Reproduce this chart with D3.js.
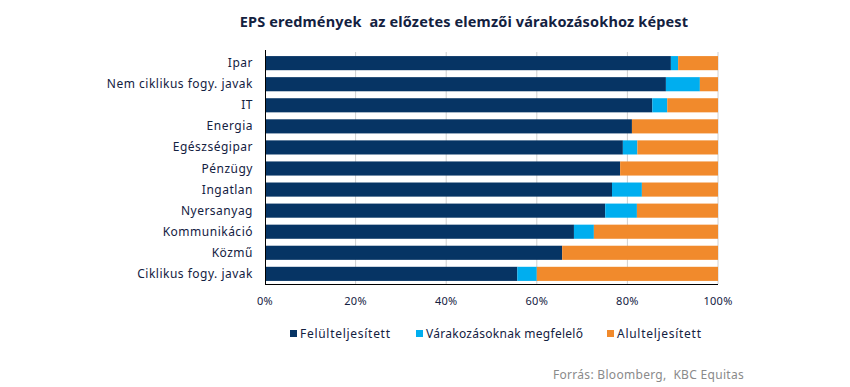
<!DOCTYPE html>
<html lang="hu">
<head>
<meta charset="UTF-8">
<title>EPS eredmények</title>
<script src="https://d3js.org/d3.v7.min.js"></script>
<style>
  body { margin: 0; background: #fff; }
  text { font-family: "Noto Sans", sans-serif; }
</style>
</head>
<body>
<script>
    const width  = 850;
    const height = 387;

    const sectors  = ['Ipar', 'Nem ciklikus fogy. javak', 'IT', 'Energia', 'Egészségipar', 'Pénzügy',
                      'Ingatlan', 'Nyersanyag', 'Kommunikáció', 'Közmű', 'Ciklikus fogy. javak'];
    const beat     = [89.6, 88.5, 85.5, 81.0, 79.0, 78.4, 76.6, 75.1, 68.2, 65.6, 55.7];
    const inline   = [1.6, 7.5, 3.3, 0, 3.2, 0, 6.6, 7.0, 4.4, 0, 4.3];
    const miss     = beat.map((b, i) => 100 - b - inline[i]);
    const seriesNames = ['Felülteljesített', 'Várakozásoknak megfelelő', 'Alulteljesített'];
    const colors   = ['#063464', '#00aeef', '#f18a2c'];
    const ticks    = [0, 20, 40, 60, 80, 100];

    const rows = sectors.map((s, i) => ({sector: s, beat: beat[i], inline: inline[i], miss: miss[i]}));
    const stack = d3.stack().keys(['beat', 'inline', 'miss'])(rows);

    const svg = d3.select("body").append("svg")
        .attr("width", width).attr("height", height);

    svg.append("text")
        .attr("x", 464).attr("y", 27)
        .attr("text-anchor", "middle")
        .style("font-size", "14.5px").style("font-weight", "bold")
        .style("letter-spacing", "0.15px")
        .style("fill", "#13213f")
        .text("EPS eredmények  az előzetes elemzői várakozásokhoz képest")
        .attr("xml:space", "preserve");

    const x = d3.scaleLinear().domain([0, 100]).range([265, 718]);
    const y = d3.scaleBand().domain(sectors).range([52.5, 284.5]).paddingInner(0.33).paddingOuter(0.17);

    // gridlines
    svg.append("g").selectAll("line").data(ticks.slice(1)).join("line")
        .attr("x1", d => x(d)).attr("x2", d => x(d))
        .attr("y1", 52).attr("y2", 284)
        .attr("stroke", "#d0d0d0").attr("stroke-width", 1);

    svg.append("g").selectAll("g").data(stack).join("g")
        .attr("fill", (d, i) => colors[i])
        .selectAll("rect").data(d => d).join("rect")
        .attr("x", d => x(d[0]))
        .attr("width", d => x(d[1]) - x(d[0]))
        .attr("y", d => y(d.data.sector))
        .attr("height", y.bandwidth());

    // axes
    svg.append("line").attr("x1", 265.5).attr("x2", 265.5).attr("y1", 50).attr("y2", 285)
        .attr("stroke", "#000");
    svg.append("line").attr("x1", 265).attr("x2", 718).attr("y1", 284.5).attr("y2", 284.5)
        .attr("stroke", "#000");

    svg.append("g").selectAll("text").data(sectors).join("text")
        .attr("x", 253).attr("y", d => y(d) + y.bandwidth() / 2 + 4)
        .attr("text-anchor", "end")
        .style("font-size", "12px").style("fill", "#13213f")
        .style("letter-spacing", "0.5px")
        .text(d => d);

    svg.append("g").selectAll("text").data(ticks).join("text")
        .attr("x", d => x(d)).attr("y", 305)
        .attr("text-anchor", "middle")
        .style("font-size", "11px").style("fill", "#13213f")
        .style("letter-spacing", "0.3px")
        .text(d => d + "%");

    // legend
    const legX = [290, 416, 607];
    const legW = [90, 157, 84];
    const leg = svg.append("g").selectAll("g").data(seriesNames).join("g")
        .attr("transform", (d, i) => "translate(" + legX[i] + ",334)");
    leg.append("rect").attr("x", 0).attr("y", -4).attr("width", 7).attr("height", 7)
        .attr("fill", (d, i) => colors[i]);
    leg.append("text").attr("x", 10).attr("y", 4)
        .attr("textLength", (d, i) => legW[i]).attr("lengthAdjust", "spacing")
        .style("font-size", "12px").style("fill", "#13213f")
        .text(d => d);

    svg.append("text")
        .attr("x", 744).attr("y", 379)
        .attr("text-anchor", "end")
        .style("font-size", "12px").style("fill", "#8a8a8a")
        .style("letter-spacing", "0.3px")
        .text("Forrás: Bloomberg,  KBC Equitas")
        .attr("xml:space", "preserve");
</script>
</body>
</html>
